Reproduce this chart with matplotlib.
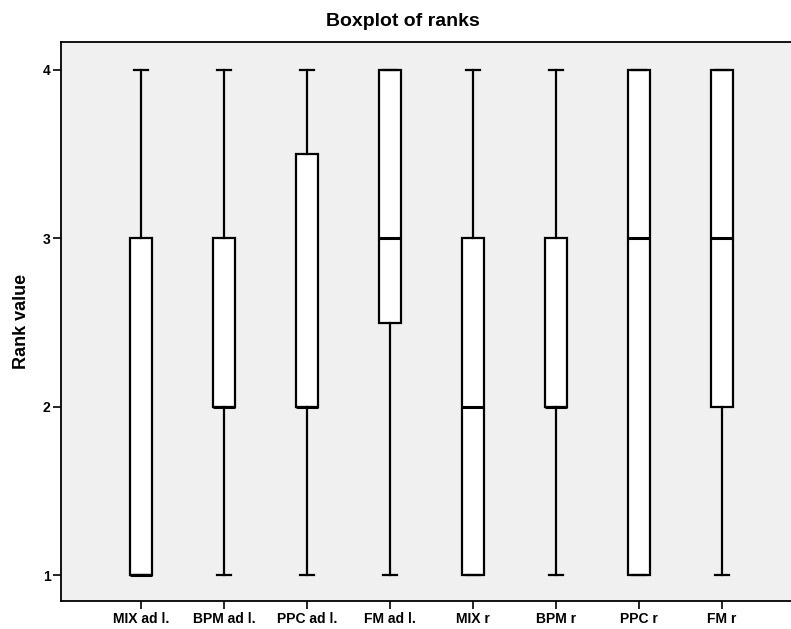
import matplotlib
matplotlib.use("Agg")
import matplotlib.pyplot as plt

plt.rcParams['font.family'] = ['Liberation Sans', 'DejaVu Sans']

categories = ["MIX ad l.", "BPM ad l.", "PPC ad l.", "FM ad l.",
              "MIX r", "BPM r", "PPC r", "FM r"]
whis_low = [1, 1, 1, 1, 1, 1, 1, 1]
q1 = [1, 2, 2, 2.5, 1, 2, 1, 2]
median = [1, 2, 2, 3, 2, 2, 3, 3]
q3 = [3, 3, 3.5, 4, 3, 3, 4, 4]
whis_high = [4, 4, 4, 4, 4, 4, 4, 4]
y_ticks = [1, 2, 3, 4]

stats = []
for lab, wl, a, m, b, wh in zip(categories, whis_low, q1, median, q3, whis_high):
    stats.append(dict(label=lab, whislo=wl, q1=a, med=m, q3=b, whishi=wh, fliers=[]))

fig = plt.figure(figsize=(7.91, 6.29), dpi=100)
left = 61 / 791
right_px = 802
ax = fig.add_axes([left, 1 - 601 / 629, (right_px - 61) / 791, (601 - 42) / 629])
ax.set_facecolor('#f0f0f0')

positions = list(range(1, len(categories) + 1))
ax.bxp(stats, positions=positions, widths=0.26, showfliers=False,
       patch_artist=True,
       boxprops=dict(facecolor='white', edgecolor='black', linewidth=1.6),
       medianprops=dict(color='black', linewidth=2.2),
       whiskerprops=dict(color='black', linewidth=1.6),
       capprops=dict(color='black', linewidth=1.6),
       capwidths=0.16)

ax.set_xlim(0.036, 8.964)
ax.set_ylim(0.846, 4.166)
ax.set_yticks(y_ticks)
ax.set_yticklabels([str(t) for t in y_ticks], fontsize=10, fontweight='bold')
ax.set_xticks(positions)
ax.set_xticklabels(categories, fontsize=10, fontweight='bold')
ax.tick_params(axis='both', direction='out', length=6, width=1.2, color='black')
ax.tick_params(axis='x', pad=2)
ax.tick_params(axis='y', pad=1.5)

for s in ['left', 'bottom', 'top']:
    ax.spines[s].set_linewidth(1.3)
    ax.spines[s].set_color('black')
ax.spines['right'].set_visible(False)

ax.set_ylabel("Rank value", fontsize=13, fontweight='bold', labelpad=9)
fig.text(403 / 791, 1 - 21 / 629, "Boxplot of ranks", fontsize=14, fontweight='bold',
         ha='center', va='center')

fig.savefig("out.png", dpi=100)
